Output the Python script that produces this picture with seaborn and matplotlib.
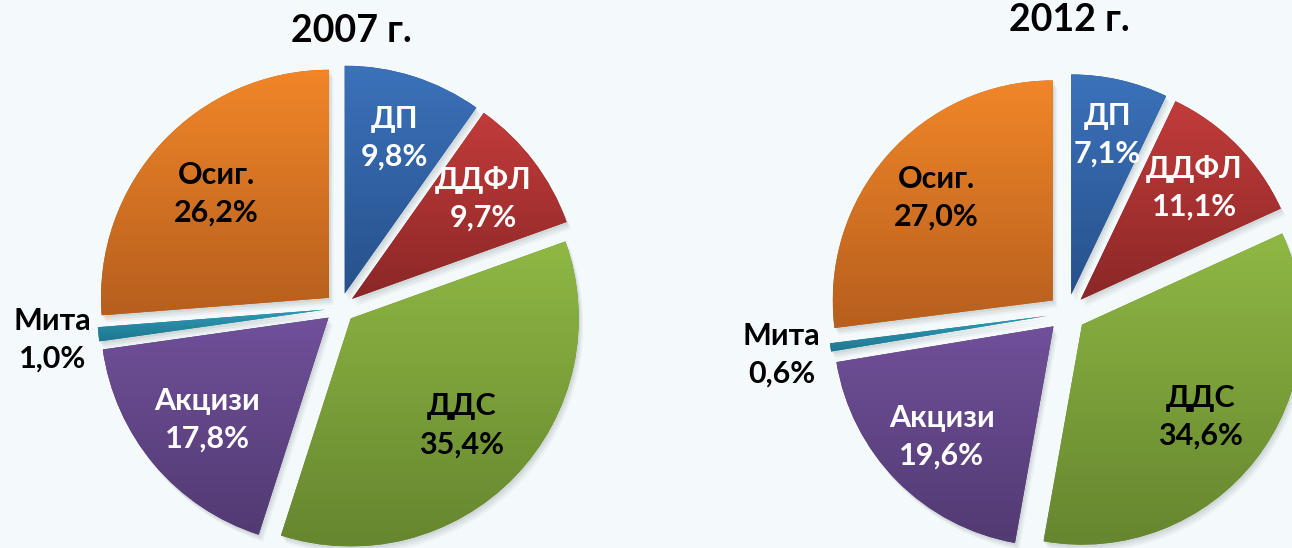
import numpy as np
import matplotlib.pyplot as plt
import seaborn as sns
from matplotlib.patches import Wedge

# data
categories = ["ДП", "ДДФЛ", "ДДС", "Акцизи", "Мита", "Осиг."]
shares_2007 = [9.8, 9.7, 35.4, 17.8, 1.0, 26.2]
shares_2012 = [7.1, 11.1, 34.6, 19.6, 0.6, 27.0]
years = ["2007 г.", "2012 г."]

# style
top_colors = ["#3b72ba", "#c23c3a", "#8fb844", "#70509a", "#2f9ab6", "#f18628"]
bottom_colors = ["#27518c", "#8b2727", "#66862f", "#523a72", "#1f7790", "#b65f1e"]
text_colors = ["white", "white", "black", "white", "black", "black"]
bg = "#f4fafb"

sns.set_theme(style="white")
plt.rcParams["font.family"] = ["Lato", "Open Sans", "DejaVu Sans"]


def fmt(v):
    return f"{v:.1f}".replace(".", ",") + "%"


def draw_pie(ax, values, center, radius, explode, label_dist, title, title_xy):
    # explode is in data units (pixels here)
    wedges, _ = ax.pie(values, startangle=90, counterclock=False,
                       center=center, radius=radius,
                       explode=[explode] * len(values),
                       colors=bottom_colors,
                       wedgeprops=dict(linewidth=0))
    for w, top, bot, lab, v, tc, ld in zip(wedges, top_colors, bottom_colors,
                                           categories, values, text_colors,
                                           label_dist):
        # soft shadow
        for k, (ox, oy) in enumerate([(1.5, -2.5), (3, -5), (4.5, -7)]):
            sh = Wedge((w.center[0] + ox, w.center[1] + oy), w.r,
                       w.theta1, w.theta2, facecolor="#7f8a8c",
                       alpha=0.14 - 0.03 * k, linewidth=0, zorder=0.5)
            ax.add_patch(sh)
        # vertical gradient inside the slice
        ext = w.get_path().get_extents()
        ramp = np.array(sns.blend_palette([bot, top], n_colors=128))[:, None, :]
        im = ax.imshow(ramp, extent=[ext.x0, ext.x1, ext.y0, ext.y1],
                       origin="lower", aspect="auto",
                       interpolation="bilinear", zorder=2)
        im.set_clip_path(w)
        mid = np.deg2rad((w.theta1 + w.theta2) / 2)
        x = center[0] + ld * radius * np.cos(mid)
        y = center[1] + ld * radius * np.sin(mid)
        ax.text(x, y, f"{lab}\n{fmt(v)}", color=tc, fontsize=22,
                fontweight="bold", ha="center", va="center",
                linespacing=1.42, zorder=3)
    ax.text(title_xy[0], title_xy[1], title, fontsize=27, fontweight="bold",
            ha="center", va="center", color="black", zorder=3)


fig = plt.figure(figsize=(12.92, 5.48), dpi=100, facecolor=bg)
ax = fig.add_axes([0, 0, 1, 1])
ax.set_facecolor(bg)

draw_pie(ax, shares_2007, (340, 240), 228, 15,
         [0.785, 0.79, 0.74, 0.76, 1.27, 0.74], years[0], (351, 517))
draw_pie(ax, shares_2012, (1067, 235), 220, 19,
         [0.83, 0.81, 0.77, 0.80, 1.31, 0.79], years[1], (1069, 528))

ax.set_xlim(0, 1292)
ax.set_ylim(0, 548)
ax.set_aspect("equal")
ax.axis("off")

fig.savefig("out.png", dpi=100, facecolor=bg)
